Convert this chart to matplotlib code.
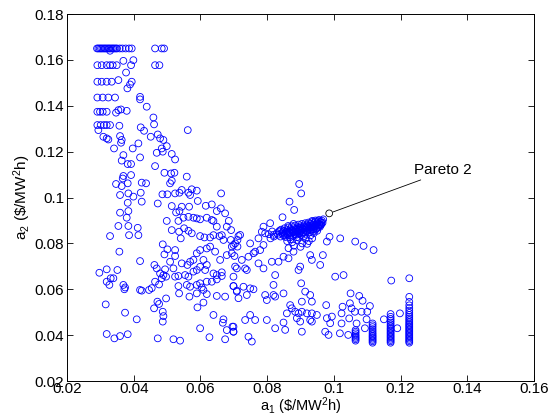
import numpy as np
import matplotlib
matplotlib.use('Agg')
import matplotlib.pyplot as plt

# Левый верхний блок (строки при малых a1)
top_a1 = [0.0290, 0.0294, 0.0298, 0.0302, 0.0306, 0.0310, 0.0314, 0.0318, 0.0322, 0.0326,
          0.0330, 0.0334, 0.0338, 0.0342, 0.0346, 0.0350, 0.0358, 0.0366, 0.0376, 0.0386,
          0.0394, 0.0464, 0.0484, 0.0491, 0.0329,
          0.0291, 0.0304, 0.0319, 0.0329, 0.0337, 0.0349, 0.0464, 0.0477,
          0.0369, 0.0399, 0.0392, 0.0377,
          0.0291, 0.0304, 0.0319, 0.0334, 0.0354, 0.0394, 0.0389, 0.0381,
          0.0291, 0.0307, 0.0324, 0.0344, 0.0419, 0.0419, 0.0439,
          0.0291, 0.0299, 0.0307, 0.0319, 0.0347, 0.0354, 0.0362, 0.0379, 0.0459, 0.0461,
          0.0291, 0.0301, 0.0311, 0.0319, 0.0329, 0.0357, 0.0294, 0.0309, 0.0319, 0.0324,
          0.0359, 0.0364, 0.0362, 0.0341, 0.0421, 0.0431, 0.0451, 0.0472, 0.0479, 0.0489,
          0.0499, 0.0562, 0.0397, 0.0414, 0.0469, 0.0484, 0.0487, 0.0514, 0.0369, 0.0419]
top_a2 = [0.1650, 0.1650, 0.1650, 0.1650, 0.1650, 0.1650, 0.1650, 0.1650, 0.1650, 0.1650,
          0.1650, 0.1650, 0.1650, 0.1650, 0.1650, 0.1650, 0.1650, 0.1650, 0.1650, 0.1650,
          0.1650, 0.1650, 0.1650, 0.1650, 0.1640,
          0.1577, 0.1577, 0.1577, 0.1577, 0.1577, 0.1577, 0.1577, 0.1577,
          0.1596, 0.1599, 0.1577, 0.1545,
          0.1505, 0.1505, 0.1505, 0.1505, 0.1512, 0.1505, 0.1493, 0.1476,
          0.1436, 0.1436, 0.1436, 0.1436, 0.1439, 0.1428, 0.1396,
          0.1374, 0.1374, 0.1374, 0.1374, 0.1370, 0.1381, 0.1384, 0.1378, 0.1349, 0.1319,
          0.1316, 0.1316, 0.1316, 0.1316, 0.1316, 0.1313, 0.1294, 0.1265, 0.1258, 0.1253,
          0.1268, 0.1251, 0.1239, 0.1214, 0.1306, 0.1291, 0.1265, 0.1275, 0.1258, 0.1251,
          0.1224, 0.1294, 0.1214, 0.1236, 0.1195, 0.1214, 0.1200, 0.1190, 0.1185, 0.1175]

# Средняя часть
mid_a1 = [0.0364, 0.0382, 0.0392, 0.0464, 0.0524, 0.0492, 0.0522, 0.0512, 0.0347, 0.0364,
          0.0369, 0.0367, 0.0392, 0.0382, 0.0424, 0.0437, 0.0509, 0.0514, 0.0559, 0.0359,
          0.0384, 0.0399, 0.0421, 0.0424, 0.0382, 0.0472, 0.0486, 0.0501, 0.0524, 0.0537,
          0.0544, 0.0564, 0.0574, 0.0589, 0.0569, 0.0662, 0.0359, 0.0384, 0.0379, 0.0354,
          0.0384, 0.0412, 0.0386, 0.0414, 0.0329, 0.0499, 0.0514, 0.0527, 0.0537, 0.0544,
          0.0566, 0.0549, 0.0592, 0.0616, 0.0634, 0.0649, 0.0661, 0.0674, 0.0685, 0.0534,
          0.0564, 0.0579, 0.0589, 0.0599, 0.0619, 0.0634, 0.0639, 0.0649, 0.0679, 0.0692,
          0.0514, 0.0536, 0.0551, 0.0564, 0.0574, 0.0541, 0.0599, 0.0612, 0.0629, 0.0639,
          0.0657, 0.0664, 0.0691, 0.0704, 0.0714, 0.0711, 0.0694, 0.0669, 0.0357, 0.0419,
          0.0487, 0.0501, 0.0524, 0.0524, 0.0492, 0.0509, 0.0462, 0.0469, 0.0479, 0.0494,
          0.0497, 0.0519, 0.0544, 0.0561, 0.0569, 0.0579, 0.0589, 0.0599, 0.0609, 0.0619,
          0.0629, 0.0644, 0.0659, 0.0679, 0.0694, 0.0702, 0.0709, 0.0699, 0.0664, 0.0649,
          0.0639, 0.0619, 0.0614, 0.0599, 0.0589, 0.0579, 0.0564, 0.0554, 0.0534, 0.0524,
          0.0297, 0.0319, 0.0351, 0.0319, 0.0331, 0.0339, 0.0327, 0.0369, 0.0374, 0.0372,
          0.0419, 0.0424, 0.0446, 0.0454, 0.0464, 0.0476, 0.0484, 0.0489, 0.0534, 0.0559,
          0.0536, 0.0569, 0.0589, 0.0599, 0.0604, 0.0619, 0.0634, 0.0649, 0.0664, 0.0567,
          0.0589, 0.0609, 0.0619, 0.0649, 0.0674, 0.0699, 0.0709, 0.0316, 0.0374, 0.0409,
          0.0461, 0.0471, 0.0476, 0.0487, 0.0489, 0.0487, 0.0497, 0.0591, 0.0609, 0.0639,
          0.0669, 0.0667, 0.0679, 0.0696, 0.0699, 0.0599, 0.0627, 0.0674, 0.0319, 0.0342,
          0.0359, 0.0382, 0.0472, 0.0519, 0.0539]
mid_a2 = [0.1161, 0.1146, 0.1146, 0.1137, 0.1166, 0.1108, 0.1108, 0.1105, 0.1059, 0.1050,
          0.1094, 0.1083, 0.1098, 0.1062, 0.1065, 0.1062, 0.1062, 0.1073, 0.1091, 0.1011,
          0.1018, 0.1004, 0.1021, 0.0982, 0.0977, 0.0974, 0.1014, 0.1014, 0.1018, 0.1021,
          0.1033, 0.1021, 0.1036, 0.1030, 0.1011, 0.1018, 0.0934, 0.0941, 0.0912, 0.0876,
          0.0876, 0.0868, 0.0836, 0.0836, 0.0832, 0.0898, 0.0963, 0.0935, 0.0941, 0.0960,
          0.0960, 0.0912, 0.0985, 0.0964, 0.0970, 0.0941, 0.0953, 0.0931, 0.0898, 0.0898,
          0.0916, 0.0912, 0.0909, 0.0905, 0.0912, 0.0902, 0.0898, 0.0873, 0.0873, 0.0858,
          0.0858, 0.0851, 0.0866, 0.0855, 0.0844, 0.0822, 0.0832, 0.0826, 0.0826, 0.0836,
          0.0832, 0.0836, 0.0815, 0.0800, 0.0832, 0.0786, 0.0786, 0.0815, 0.0764, 0.0723,
          0.0796, 0.0774, 0.0771, 0.0745, 0.0752, 0.0720, 0.0706, 0.0691, 0.0669, 0.0687,
          0.0655, 0.0691, 0.0713, 0.0706, 0.0720, 0.0728, 0.0757, 0.0771, 0.0728, 0.0778,
          0.0786, 0.0764, 0.0728, 0.0749, 0.0757, 0.0745, 0.0691, 0.0655, 0.0674, 0.0662,
          0.0669, 0.0706, 0.0684, 0.0698, 0.0684, 0.0677, 0.0655, 0.0662, 0.0658, 0.0655,
          0.0672, 0.0687, 0.0684, 0.0633, 0.0648, 0.0648, 0.0619, 0.0619, 0.0608, 0.0600,
          0.0597, 0.0594, 0.0597, 0.0605, 0.0633, 0.0621, 0.0648, 0.0662, 0.0614, 0.0619,
          0.0582, 0.0611, 0.0619, 0.0626, 0.0608, 0.0633, 0.0633, 0.0643, 0.0658, 0.0568,
          0.0582, 0.0597, 0.0579, 0.0571, 0.0568, 0.0614, 0.0594, 0.0534, 0.0498, 0.0469,
          0.0517, 0.0546, 0.0536, 0.0502, 0.0483, 0.0459, 0.0560, 0.0521, 0.0542, 0.0488,
          0.0469, 0.0454, 0.0422, 0.0437, 0.0415, 0.0430, 0.0391, 0.0382, 0.0405, 0.0386,
          0.0396, 0.0404, 0.0386, 0.0382, 0.0376]

# Плотное скопление (Pareto)
cl_a1 = [0.0829, 0.0833, 0.0836, 0.0840, 0.0842, 0.0845, 0.0848, 0.0850, 0.0852, 0.0855,
         0.0857, 0.0860, 0.0862, 0.0864, 0.0866, 0.0868, 0.0870, 0.0872, 0.0874, 0.0876,
         0.0878, 0.0880, 0.0882, 0.0884, 0.0886, 0.0888, 0.0890, 0.0892, 0.0894, 0.0896,
         0.0898, 0.0900, 0.0902, 0.0904, 0.0906, 0.0908, 0.0910, 0.0912, 0.0914, 0.0916,
         0.0918, 0.0920, 0.0922, 0.0924, 0.0926, 0.0928, 0.0930, 0.0932, 0.0934, 0.0936,
         0.0938, 0.0940, 0.0942, 0.0944, 0.0946, 0.0948, 0.0950, 0.0952, 0.0954, 0.0956,
         0.0958, 0.0960, 0.0962, 0.0964, 0.0966, 0.0968, 0.0955, 0.0945, 0.0935,
         0.0860, 0.0875, 0.0890, 0.0905, 0.0915, 0.0925, 0.0880, 0.0900, 0.0870, 0.0895,
         0.0910, 0.0930, 0.0940, 0.0950, 0.0920, 0.0935, 0.0805, 0.0815, 0.0820, 0.0810,
         0.0851, 0.0858, 0.0867, 0.0873, 0.0881, 0.0887, 0.0893, 0.0899, 0.0905, 0.0911,
         0.0917, 0.0923, 0.0929, 0.0937, 0.0943, 0.0949, 0.0957, 0.0963, 0.0853, 0.0861,
         0.0869, 0.0877, 0.0885, 0.0891, 0.0897, 0.0903, 0.0909, 0.0915, 0.0921, 0.0927,
         0.0933, 0.0939, 0.0947, 0.0953, 0.0959, 0.0838, 0.0846, 0.0863, 0.0879, 0.0889]
cl_a2 = [0.0845, 0.0838, 0.0852, 0.0830, 0.0860, 0.0843, 0.0836, 0.0855, 0.0866, 0.0828,
         0.0847, 0.0858, 0.0838, 0.0870, 0.0850, 0.0826, 0.0862, 0.0843, 0.0875, 0.0855,
         0.0833, 0.0866, 0.0848, 0.0878, 0.0858, 0.0838, 0.0870, 0.0851, 0.0882, 0.0862,
         0.0843, 0.0874, 0.0856, 0.0885, 0.0866, 0.0848, 0.0878, 0.0860, 0.0888, 0.0870,
         0.0852, 0.0882, 0.0864, 0.0891, 0.0874, 0.0857, 0.0885, 0.0868, 0.0893, 0.0878,
         0.0862, 0.0888, 0.0872, 0.0895, 0.0882, 0.0866, 0.0891, 0.0877, 0.0897, 0.0885,
         0.0872, 0.0894, 0.0882, 0.0899, 0.0890, 0.0905, 0.0902, 0.0900, 0.0898,
         0.0810, 0.0805, 0.0815, 0.0800, 0.0820, 0.0810, 0.0790, 0.0785, 0.0818, 0.0825,
         0.0832, 0.0835, 0.0845, 0.0855, 0.0798, 0.0822, 0.0840, 0.0852, 0.0830, 0.0822,
         0.0842, 0.0852, 0.0846, 0.0858, 0.0852, 0.0863, 0.0858, 0.0868, 0.0862, 0.0872,
         0.0866, 0.0877, 0.0870, 0.0882, 0.0876, 0.0886, 0.0880, 0.0889, 0.0834, 0.0844,
         0.0836, 0.0848, 0.0840, 0.0853, 0.0846, 0.0836, 0.0850, 0.0842, 0.0856, 0.0848,
         0.0860, 0.0852, 0.0862, 0.0870, 0.0878, 0.0856, 0.0849, 0.0876, 0.0885, 0.0827]

# Правая часть
right_a1 = [0.0896, 0.0902, 0.0867, 0.0881, 0.0846, 0.0809, 0.0789, 0.0784, 0.0794, 0.0819,
            0.0774, 0.0789, 0.0779, 0.0764, 0.0749, 0.0719, 0.0711, 0.0699, 0.0724, 0.0744,
            0.0759, 0.0739, 0.0734, 0.0704, 0.0774, 0.0789, 0.0814, 0.0834, 0.0849, 0.0864,
            0.0824, 0.0899, 0.0894, 0.0929, 0.0934, 0.0967, 0.0959, 0.0987, 0.0979, 0.1019,
            0.1064, 0.1089, 0.1119, 0.1004, 0.1029, 0.1172, 0.1226, 0.0902, 0.0819, 0.0729,
            0.0749, 0.0759, 0.0699, 0.0709, 0.0739, 0.0714, 0.0794, 0.0819, 0.0799, 0.0824,
            0.0849, 0.0914, 0.0929, 0.0904, 0.0934, 0.0869, 0.0874, 0.0884, 0.0859, 0.0894,
            0.0904, 0.0919, 0.0934, 0.0949, 0.0929, 0.0934, 0.0899, 0.0889, 0.0849, 0.0854,
            0.0824, 0.0799, 0.0764, 0.0734, 0.0749, 0.0699, 0.0699, 0.0744, 0.0754, 0.0904,
            0.0977, 0.0979, 0.0994, 0.0989, 0.0984, 0.0974, 0.0864, 0.0879,
            0.1050, 0.1076, 0.1086, 0.1108, 0.1048, 0.1053, 0.1063, 0.1083, 0.1100, 0.1026,
            0.1023, 0.1023, 0.1046, 0.1068, 0.1098, 0.1093, 0.1018, 0.1043, 0.1150, 0.1198,
            0.1190]
right_a2 = [0.1059, 0.1018, 0.0982, 0.0946, 0.0914, 0.0888, 0.0873, 0.0851, 0.0844, 0.0837,
            0.0822, 0.0793, 0.0771, 0.0764, 0.0800, 0.0837, 0.0815, 0.0793, 0.0728, 0.0742,
            0.0757, 0.0684, 0.0691, 0.0699, 0.0713, 0.0691, 0.0720, 0.0720, 0.0742, 0.0735,
            0.0662, 0.0699, 0.0684, 0.0749, 0.0728, 0.0749, 0.0706, 0.0829, 0.0808, 0.0822,
            0.0808, 0.0789, 0.0771, 0.0655, 0.0662, 0.0638, 0.0648, 0.0626, 0.0619, 0.0611,
            0.0604, 0.0600, 0.0614, 0.0590, 0.0575, 0.0561, 0.0575, 0.0575, 0.0553, 0.0568,
            0.0582, 0.0590, 0.0575, 0.0546, 0.0546, 0.0531, 0.0517, 0.0502, 0.0495, 0.0495,
            0.0502, 0.0495, 0.0495, 0.0488, 0.0466, 0.0459, 0.0459, 0.0474, 0.0455, 0.0423,
            0.0430, 0.0466, 0.0466, 0.0466, 0.0488, 0.0437, 0.0415, 0.0393, 0.0372, 0.0415,
            0.0531, 0.0474, 0.0481, 0.0452, 0.0401, 0.0415, 0.0779, 0.0764,
            0.0582, 0.0571, 0.0550, 0.0527, 0.0539, 0.0517, 0.0502, 0.0502, 0.0502, 0.0524,
            0.0495, 0.0451, 0.0473, 0.0451, 0.0469, 0.0430, 0.0408, 0.0401, 0.0469, 0.0495,
            0.0430]

# Вертикальные столбцы справа внизу
col_a1 = [0.1065, 0.1116, 0.1170, 0.1226]
col_a2 = [
    [0.0376, 0.0382, 0.0388, 0.0394, 0.0400, 0.0408, 0.0415, 0.0422],
    [0.0367, 0.0373, 0.0379, 0.0385, 0.0391, 0.0397, 0.0403, 0.0410, 0.0418, 0.0426,
     0.0435, 0.0443, 0.0451],
    [0.0367, 0.0373, 0.0379, 0.0385, 0.0391, 0.0397, 0.0403, 0.0409, 0.0415, 0.0421,
     0.0427, 0.0433, 0.0440, 0.0447, 0.0455, 0.0463, 0.0471, 0.0480, 0.0492],
    [0.0367, 0.0373, 0.0379, 0.0385, 0.0391, 0.0397, 0.0403, 0.0409, 0.0415, 0.0421,
     0.0427, 0.0433, 0.0439, 0.0445, 0.0451, 0.0458, 0.0465, 0.0472, 0.0480, 0.0488,
     0.0497, 0.0507, 0.0518, 0.0530, 0.0545, 0.0567],
]

pareto_a1 = 0.0986
pareto_a2 = 0.0931

x_ticks = [0.02, 0.04, 0.06, 0.08, 0.1, 0.12, 0.14, 0.16]
x_tick_labels = ['0.02', '0.04', '0.06', '0.08', '0.1', '0.12', '0.14', '0.16']
y_ticks = [0.02, 0.04, 0.06, 0.08, 0.1, 0.12, 0.14, 0.16, 0.18]
y_tick_labels = ['0.02', '0.04', '0.06', '0.08', '0.1', '0.12', '0.14', '0.16', '0.18']

plt.rcParams.update({
    'font.family': ['Liberation Sans', 'DejaVu Sans'],
    'font.size': 11,
    'mathtext.fontset': 'custom',
    'mathtext.rm': 'Liberation Sans',
    'mathtext.default': 'regular',
})

a1 = top_a1 + mid_a1 + cl_a1 + right_a1
a2 = top_a2 + mid_a2 + cl_a2 + right_a2
for cx, cy in zip(col_a1, col_a2):
    a1 += [cx] * len(cy)
    a2 += cy

fig = plt.figure(figsize=(5.56, 4.17), dpi=100)
ax = fig.add_axes([0.1205, 0.0863, 0.840, 0.880])

ax.scatter(a1, a2, s=24, facecolors='none', edgecolors='#0000ff', linewidths=0.6)
ax.scatter([pareto_a1], [pareto_a2], s=24, facecolors='none', edgecolors='black', linewidths=0.6)
ax.annotate('Pareto 2', xy=(pareto_a1, pareto_a2), xytext=(0.1240, 0.1102),
            arrowprops=dict(arrowstyle='-', color='black', lw=0.6,
                            shrinkA=0, shrinkB=3, relpos=(0.25, 0)))

ax.set_xlim(0.02, 0.16)
ax.set_ylim(0.02, 0.18)
ax.set_xticks(x_ticks)
ax.set_xticklabels(x_tick_labels)
ax.set_yticks(y_ticks)
ax.set_yticklabels(y_tick_labels)
ax.tick_params(direction='in', length=4, width=0.6, top=True, right=True, pad=2)
ax.tick_params(axis='x', pad=0.5)
for sp in ax.spines.values():
    sp.set_linewidth(0.7)

ax.set_xlabel(r'a$_1$ (\$/MW$^2$h)', labelpad=0, fontsize=10.5)
ax.set_ylabel(r'a$_2$ (\$/MW$^2$h)', labelpad=1)

plt.savefig('out.png', dpi=100)
